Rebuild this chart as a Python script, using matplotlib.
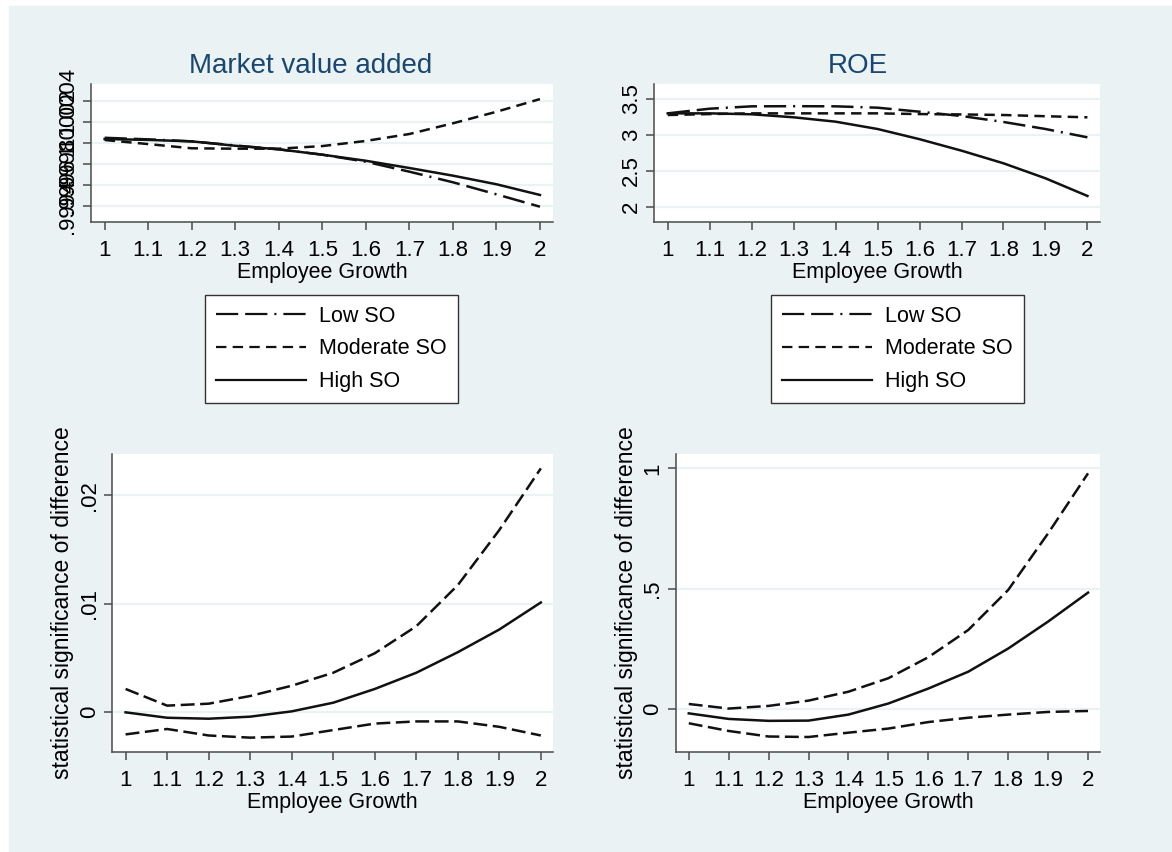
import matplotlib
matplotlib.use("Agg")
import matplotlib.pyplot as plt
from matplotlib.lines import Line2D
from matplotlib.patches import Rectangle

plt.rcParams["font.family"] = ["Liberation Sans", "DejaVu Sans"]
plt.rcParams["lines.scale_dashes"] = False

W, H = 1172, 852
BG = "#eaf2f3"
GRID = "#eaf2f3"
AXIS = "#4a4a4a"
INK = "#111111"
NAVY = "#1a476f"

LOW_DASH = (16, 5, 16, 5, 1.5, 5)
MOD_DASH = (7.5, 4.5)
CI_DASH = (10, 4)

# --- data -------------------------------------------------------------
growth = [1.0, 1.1, 1.2, 1.3, 1.4, 1.5, 1.6, 1.7, 1.8, 1.9, 2.0]

mva_low = [1.00005, 1.000035, 1.000016, 0.999977, 0.99994, 0.999889,
           0.999822, 0.999727, 0.999626, 0.999511, 0.999393]
mva_mod = [1.000029, 0.99999, 0.99995, 0.999946, 0.999946, 0.999971,
           1.00002, 1.000086, 1.000188, 1.000298, 1.000419]
mva_high = [1.000038, 1.00003, 1.000016, 0.999974, 0.99994, 0.999889,
            0.999831, 0.999762, 0.999689, 0.999607, 0.999505]
mva_yticks = [0.9994, 0.9996, 0.9998, 1.0, 1.0002, 1.0004]

roe_low = [3.30, 3.365, 3.398, 3.40, 3.398, 3.379, 3.323, 3.263, 3.18, 3.082, 2.966]
roe_mod = [3.277, 3.29, 3.30, 3.30, 3.30, 3.30, 3.29, 3.285, 3.277, 3.26, 3.245]
roe_high = [3.30, 3.30, 3.287, 3.245, 3.184, 3.082, 2.94, 2.78, 2.604, 2.395, 2.149]
roe_yticks = [2.0, 2.5, 3.0, 3.5]

diff_mva = [-0.00006, -0.00056, -0.00065, -0.00046, 0.00003, 0.00083,
            0.0021, 0.0036, 0.0055, 0.0076, 0.0101]
diff_mva_hi = [0.0021, 0.00056, 0.00074, 0.00145, 0.0024, 0.0036,
               0.0054, 0.0079, 0.0117, 0.0168, 0.0225]
diff_mva_lo = [-0.0021, -0.0016, -0.0022, -0.0024, -0.0023, -0.0017,
               -0.0011, -0.0009, -0.0009, -0.0014, -0.0022]
diff_mva_yticks = [0.0, 0.01, 0.02]

diff_roe = [-0.017, -0.040, -0.048, -0.047, -0.022, 0.024, 0.086, 0.156,
            0.252, 0.364, 0.484]
diff_roe_hi = [0.022, 0.003, 0.014, 0.036, 0.073, 0.129, 0.216, 0.329,
               0.495, 0.730, 0.979]
diff_roe_lo = [-0.058, -0.090, -0.113, -0.115, -0.097, -0.080, -0.053,
               -0.035, -0.022, -0.011, -0.007]
diff_roe_yticks = [0.0, 0.5, 1.0]

series_labels = ["Low SO", "Moderate SO", "High SO"]


def box(left, top, right, bottom):
    return [left / W, 1 - bottom / H, (right - left) / W, (bottom - top) / H]


def stata_fmt(v):
    s = f"{v:.4f}".rstrip("0").rstrip(".")
    if s.startswith("0."):
        s = s[1:]
    return s


def style_axes(ax, yticks, ylim):
    ax.set_xlim(0.968, 2.03)
    ax.set_ylim(*ylim)
    ax.set_xticks(growth, [stata_fmt(v) for v in growth])
    ax.set_yticks(yticks, [stata_fmt(v) for v in yticks],
                  rotation=90, va="center")
    for s in ("top", "right"):
        ax.spines[s].set_visible(False)
    for s in ("left", "bottom"):
        ax.spines[s].set_color(AXIS)
        ax.spines[s].set_linewidth(1.1)
    ax.tick_params(direction="out", length=6, width=1.1, color=AXIS,
                   labelsize=16, pad=3)
    ax.tick_params(axis="x", pad=7)
    ax.grid(axis="y", color=GRID, lw=1.6)
    ax.set_axisbelow(True)
    ax.set_xlabel("Employee Growth", fontsize=15.5, labelpad=1)


fig = plt.figure(figsize=(W / 100, H / 100), dpi=100)
fig.patch.set_facecolor("white")
fig.add_artist(Rectangle((9 / W, 0), 1, 1 - 6 / H, transform=fig.transFigure,
                         color=BG, zorder=-5))

# top row: predicted values by SO level
ax1 = fig.add_axes(box(90.7, 84.3, 553, 221.7))
ax1.plot(growth, mva_low, color=INK, lw=1.8, dashes=LOW_DASH)
ax1.plot(growth, mva_mod, color=INK, lw=1.8, dashes=MOD_DASH)
ax1.plot(growth, mva_high, color=INK, lw=1.8)
style_axes(ax1, mva_yticks, (0.99925, 1.00056))

ax2 = fig.add_axes(box(654.3, 84.3, 1100, 221.7))
ax2.plot(growth, roe_low, color=INK, lw=1.8, dashes=LOW_DASH)
ax2.plot(growth, roe_mod, color=INK, lw=1.8, dashes=MOD_DASH)
ax2.plot(growth, roe_high, color=INK, lw=1.8)
style_axes(ax2, roe_yticks, (1.79, 3.705))

fig.text(311 / W, 1 - 73 / H, "Market value added", ha="center",
         va="baseline", fontsize=20, color=NAVY)
fig.text(858 / W, 1 - 73 / H, "ROE", ha="center", va="baseline",
         fontsize=20, color=NAVY)

# legends under the top panels
handles = [Line2D([], [], color=INK, lw=1.6, dashes=LOW_DASH),
           Line2D([], [], color=INK, lw=1.6, dashes=MOD_DASH),
           Line2D([], [], color=INK, lw=1.6)]
for cx in (331.5, 897.5):
    leg = fig.legend(handles, series_labels, loc="center",
                     bbox_to_anchor=(cx / W, 1 - 349 / H), fontsize=15.5,
                     frameon=True, fancybox=False, edgecolor="#333333",
                     framealpha=1, handlelength=4.2, handletextpad=0.6,
                     labelspacing=0.55, borderpad=0.5)
    leg.get_frame().set_linewidth(1.0)

# bottom row: difference with confidence band
ax3 = fig.add_axes(box(112.3, 454.3, 553.3, 751.7))
ax3.plot(growth, diff_mva_hi, color=INK, lw=1.8, dashes=CI_DASH)
ax3.plot(growth, diff_mva_lo, color=INK, lw=1.8, dashes=CI_DASH)
ax3.plot(growth, diff_mva, color=INK, lw=1.8)
style_axes(ax3, diff_mva_yticks, (-0.0037, 0.0238))

ax4 = fig.add_axes(box(676, 454.3, 1100, 751.7))
ax4.plot(growth, diff_roe_hi, color=INK, lw=1.8, dashes=CI_DASH)
ax4.plot(growth, diff_roe_lo, color=INK, lw=1.8, dashes=CI_DASH)
ax4.plot(growth, diff_roe, color=INK, lw=1.8)
style_axes(ax4, diff_roe_yticks, (-0.176, 1.058))

for ax, width in ((ax3, 441.0), (ax4, 424.0)):
    ax.set_ylabel("statistical significance of difference", fontsize=16.5)
    ax.yaxis.set_label_coords(-38 / width, 0.5)

fig.savefig("out.png", dpi=100)
